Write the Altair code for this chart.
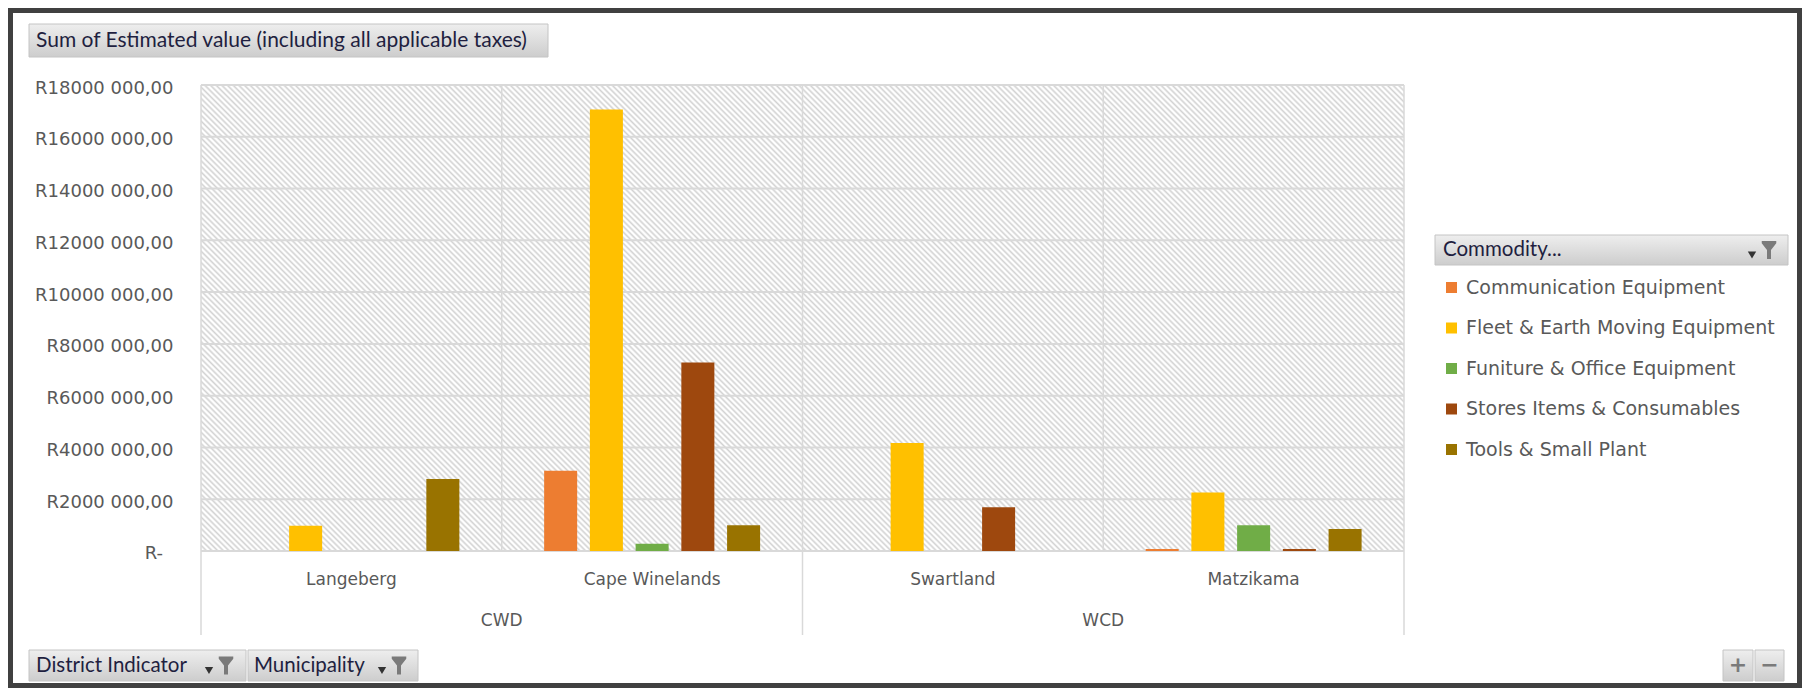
import math
import altair as alt
import pandas as pd

# ---------------- data ----------------
municipalities = ["Langeberg", "Cape Winelands", "Swartland", "Matzikama"]
districts = ["CWD", "CWD", "WCD", "WCD"]
commodities = [
    "Communication Equipment",
    "Fleet & Earth Moving Equipment",
    "Funiture & Office Equipment",
    "Stores Items & Consumables",
    "Tools & Small Plant",
]
colors = ["#ED7D31", "#FFC000", "#70AD47", "#9E480E", "#997300"]

communication = [0, 3100000, 0, 80000]
fleet = [980000, 17050000, 4170000, 2260000]
furniture = [0, 280000, 0, 990000]
stores = [0, 7280000, 1690000, 80000]
tools = [2780000, 990000, 0, 850000]

y_ticks = [0, 2000000, 4000000, 6000000, 8000000, 10000000,
           12000000, 14000000, 16000000, 18000000]
zero_label = "R-"

title_text = "Sum of Estimated value (including all applicable taxes)"
legend_header = "Commodity..."
filter_buttons = ["District Indicator", "Municipality"]

series = [communication, fleet, furniture, stores, tools]
rows = []
for com, vals in zip(commodities, series):
    for mun, dist, v in zip(municipalities, districts, vals):
        if v > 0:
            rows.append({"municipality": mun, "district": dist, "commodity": com, "value": v})
bars_df = pd.DataFrame(rows)

# district label anchors (boundary between its municipalities) and boundaries
dist_rows, first_rows, inner_rows = [], [], []
for d in dict.fromkeys(districts):
    members = [m for m, dd in zip(municipalities, districts) if dd == d]
    dist_rows.append({"municipality": members[len(members) // 2], "district": d})
    first_rows.append({"municipality": members[0]})
    for m in members[1:]:
        inner_rows.append({"municipality": m})
dist_df = pd.DataFrame(dist_rows)
first_df = pd.DataFrame(first_rows)
inner_df = pd.DataFrame(inner_rows)
ticks_df = pd.DataFrame({"value": y_ticks})
zero_df = pd.DataFrame({"value": [y_ticks[0]], "label": [zero_label]})
one = pd.DataFrame({"k": [0]})

# ---------------- layout / style ----------------
W, H = 1203, 466
TXT = "#595959"
DARK = "#1f1f40"
GRID = "#d9d9d9"
FONT = "DejaVu Sans"

# diagonal hatch as a striped linear gradient (45 deg, "\" direction)
r = H / W
a = (1 + r) / (1 + r * r)
b = -a * r
span = (W + H) / math.sqrt(2)
period = 4.0
n = int(span / period)
stops = []
for k in range(n + 1):
    stops.append(alt.GradientStop(offset=k / n, color="#d2d2d2"))
    if (k + 0.4) / n <= 1:
        stops.append(alt.GradientStop(offset=(k + 0.4) / n, color="#ffffff"))
    if (k + 0.6) / n <= 1:
        stops.append(alt.GradientStop(offset=(k + 0.6) / n, color="#ffffff"))
hatch_grad = alt.LinearGradient(gradient="linear", stops=stops,
                                x1=0, y1=1, x2=a, y2=1 + b)

btn_grad = alt.LinearGradient(
    gradient="linear",
    stops=[alt.GradientStop(offset=0, color="#eeeeee"),
           alt.GradientStop(offset=1, color="#cdcdcd")],
    x1=0, y1=0, x2=0, y2=1)

x_scale = alt.Scale(domain=municipalities, paddingInner=0, paddingOuter=0)
x_axis = alt.Axis(title=None, ticks=False, domain=False, grid=False, labelAngle=0,
                  labelFont=FONT, labelFontSize=17, labelColor=TXT,
                  labelBaseline="middle", labelPadding=28)
y_scale = alt.Scale(domain=[0, 18000000], nice=False)
y_axis = alt.Axis(title=None, ticks=False, tickSize=0, domain=False, grid=False,
                  values=y_ticks, labelFont=FONT, labelFontSize=18, labelColor=TXT,
                  labelPadding=28, labelOffset=3,
                  labelExpr="datum.value == 0 ? '' : 'R' + format(floor(datum.value / 1000), 'd') + ' 000,00'")

x_enc0 = alt.X("municipality:N", sort=municipalities, scale=x_scale, axis=x_axis, bandPosition=0)
y_enc = alt.Y("value:Q", scale=y_scale, axis=y_axis)


def vbox(x, x2, y, y2, fill, stroke="#c4c4c4", sw=1):
    return alt.Chart(one).mark_rect(fill=fill, stroke=stroke, strokeWidth=sw).encode(
        x=alt.value(x), x2=alt.value(x2), y=alt.value(y), y2=alt.value(y2))


def vtext(t, x, y, size=21, color=DARK, font="Lato", align="left", weight="normal"):
    return alt.Chart(one).mark_text(text=t, align=align, baseline="middle", font=font,
                                    fontSize=size, color=color, fontWeight=weight).encode(
        x=alt.value(x), y=alt.value(y))


FUNNEL = "M-0.8,-1 L0.8,-1 L0.8,-0.75 L0.22,0 L0.22,1 L-0.22,1 L-0.22,0 L-0.8,-0.75 Z"


def filter_icon(x, y):
    arrow = alt.Chart(one).mark_point(shape="triangle-down", filled=True, size=70,
                                      color="#333333", opacity=1).encode(
        x=alt.value(x), y=alt.value(y + 5))
    funnel = alt.Chart(one).mark_point(shape=FUNNEL, filled=True, size=330,
                                       color="#7a7a7a", opacity=1).encode(
        x=alt.value(x + 17), y=alt.value(y))
    return [arrow, funnel]


layers = []
# outer frame
layers.append(alt.Chart(one).mark_rect(fillOpacity=0, stroke="#404040", strokeWidth=5).encode(
    x=alt.value(-190.5), x2=alt.value(W + 395.5), y=alt.value(-74.5), y2=alt.value(H + 134.5)))
# title button
layers.append(vbox(-172, 347, -61, -28, btn_grad))
layers.append(vtext(title_text, -165, -44))
# hatched plot background
layers.append(alt.Chart(one).mark_rect(fill=hatch_grad).encode(
    x=alt.value(0), x2=alt.value(W), y=alt.value(0), y2=alt.value(H)))
# horizontal gridlines
layers.append(alt.Chart(ticks_df).mark_rule(color=GRID, strokeWidth=2).encode(y=y_enc))
# inner vertical gridlines
layers.append(alt.Chart(inner_df).mark_rule(color=GRID, strokeWidth=1.5).encode(
    x=x_enc0, y=alt.value(0), y2=alt.value(H)))
# district boundaries (extend under the axis)
layers.append(alt.Chart(first_df).mark_rule(color=GRID, strokeWidth=1.5).encode(
    x=x_enc0, y=alt.value(0), y2=alt.value(H + 84)))
layers.append(alt.Chart(one).mark_rule(color=GRID, strokeWidth=1.5).encode(
    x=alt.value(W), y=alt.value(0), y2=alt.value(H + 84)))
# zero label (accounting style "R-", set further left)
layers.append(alt.Chart(zero_df).mark_text(font=FONT, fontSize=18, color=TXT, align="right",
                                           baseline="middle", dy=3).encode(
    x=alt.value(-38), y=y_enc, text="label:N"))
# bars
layers.append(alt.Chart(bars_df).mark_bar().encode(
    x=alt.X("municipality:N", sort=municipalities, scale=x_scale, axis=x_axis),
    xOffset=alt.XOffset("commodity:N", sort=commodities,
                        scale=alt.Scale(domain=commodities, paddingInner=0.278, paddingOuter=0.927)),
    y=y_enc,
    color=alt.Color("commodity:N", sort=commodities,
                    scale=alt.Scale(domain=commodities, range=colors),
                    legend=alt.Legend(orient="none", legendX=1241, legendY=193, title=None,
                                      padding=0, symbolType="square", symbolSize=121,
                                      symbolStrokeWidth=0, labelFont=FONT, labelFontSize=19,
                                      labelColor=TXT, labelOffset=5, rowPadding=20.5,
                                      labelLimit=400)),
))
# district labels
layers.append(alt.Chart(dist_df).mark_text(font=FONT, fontSize=17, color=TXT, baseline="middle").encode(
    x=x_enc0, y=alt.value(H + 70), text="district:N"))
# legend header
layers.append(vbox(1234, 1587, 150, 180, btn_grad))
layers.append(vtext(legend_header, 1242, 165, size=20.5))
layers += filter_icon(1551, 165)
# bottom filter buttons
layers.append(vbox(-172, 45, 565, 596, btn_grad))
layers.append(vtext(filter_buttons[0], -165, 580.5, size=20.5))
layers += filter_icon(8, 580.5)
layers.append(vbox(47, 217, 565, 596, btn_grad))
layers.append(vtext(filter_buttons[1], 53, 580.5, size=20.5))
layers += filter_icon(181, 580.5)
# +/- buttons
layers.append(vbox(1522, 1552, 565, 596, btn_grad))
layers.append(vbox(1554, 1583, 565, 596, btn_grad))
layers.append(vtext("+", 1537, 580, size=22, color="#7a7a7a", font="DejaVu Sans", align="center", weight="bold"))
layers.append(vtext("\u2212", 1568.5, 580, size=22, color="#7a7a7a", font="DejaVu Sans", align="center", weight="bold"))

chart = alt.layer(*layers).properties(
    width=W, height=H,
    padding={"left": 193, "top": 77, "right": 398, "bottom": 137},
    autosize=alt.AutoSizeParams(type="none"),
    background="#ffffff",
).configure_view(strokeWidth=0)

chart.save("out.html", embed_options={"renderer": "svg", "actions": False})
